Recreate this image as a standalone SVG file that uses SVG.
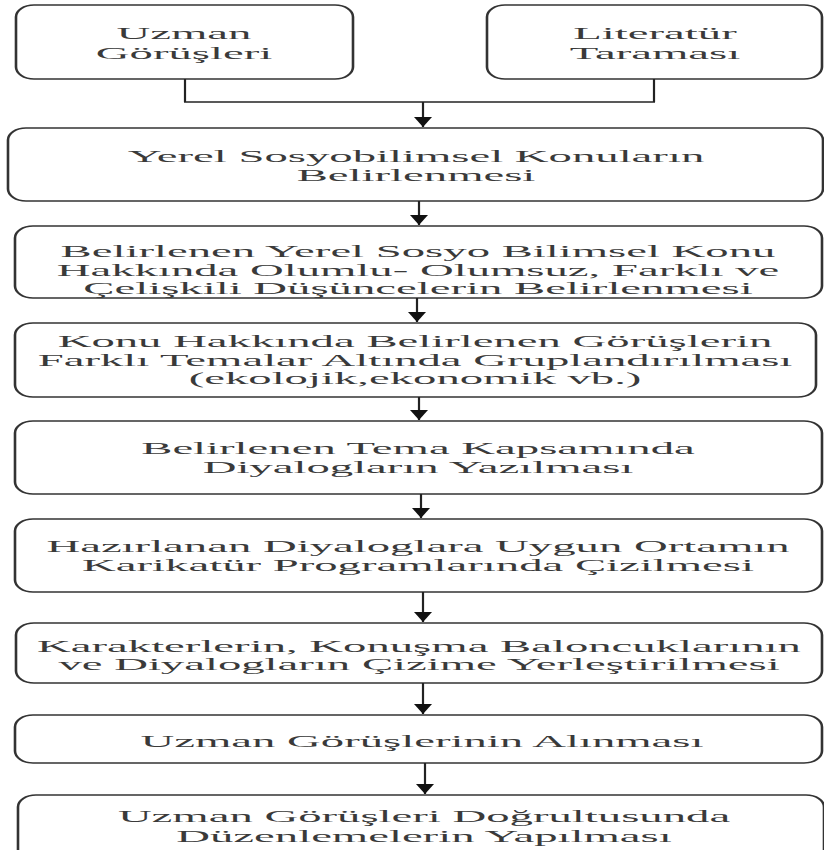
<svg xmlns="http://www.w3.org/2000/svg" width="824" height="850" viewBox="0 0 824 850">
<defs>
<style>
.box{fill:#fff;stroke:#333;stroke-width:1.3}
.t{font-family:"Liberation Serif","Times New Roman",serif;font-size:17.5px;fill:#3a3a3a;text-anchor:middle}
.v{stroke:#222;stroke-width:2.2;fill:none}
.h{stroke:#222;stroke-width:1.4;fill:none}
</style>
<marker id="ah" viewBox="0 -9 10 18" markerWidth="10" markerHeight="18" refX="10" refY="0" orient="auto" markerUnits="userSpaceOnUse">
<path d="M0,-9 L10,0 L0,9 z" fill="#111"/>
</marker>
</defs>
<rect width="824" height="850" fill="#fff"/>

<g id="uzman">
<rect class="box" transform="scale(2,1)" x="8" y="5" width="168.5" height="74" rx="9" ry="12"/>
<text class="t" transform="translate(184,0) scale(2.67,1)"><tspan x="0" y="39">Uzman</tspan><tspan x="0" y="59">Görüşleri</tspan></text>
</g>
<g id="literatur">
<rect class="box" transform="scale(2,1)" x="243.5" y="5" width="167.5" height="74" rx="9" ry="12"/>
<text class="t" transform="translate(655,0) scale(2.67,1)"><tspan x="0" y="39">Literatür</tspan><tspan x="0" y="59">Taraması</tspan></text>
</g>
<g id="yerel">
<rect class="box" transform="scale(2,1)" x="4" y="128" width="407.5" height="73" rx="9" ry="12"/>
<text class="t" transform="translate(416,0) scale(2.67,1)"><tspan x="0" y="162">Yerel Sosyobilimsel Konuların</tspan><tspan x="0" y="181">Belirlenmesi</tspan></text>
</g>
<g id="dusunceler">
<rect class="box" transform="scale(2,1)" x="7.5" y="226" width="403.5" height="72" rx="9" ry="12"/>
<text class="t" transform="translate(418,0) scale(2.67,1)"><tspan x="0" y="257">Belirlenen Yerel Sosyo Bilimsel Konu</tspan><tspan x="0" y="276">Hakkında Olumlu- Olumsuz, Farklı ve</tspan><tspan x="0" y="294">Çelişkili Düşüncelerin Belirlenmesi</tspan></text>
</g>
<g id="gruplandirma">
<rect class="box" transform="scale(2,1)" x="7.5" y="323" width="400.5" height="74" rx="9" ry="12"/>
<text class="t" transform="translate(415,0) scale(2.67,1)"><tspan x="0" y="347">Konu Hakkında Belirlenen Görüşlerin</tspan><tspan x="0" y="366">Farklı Temalar Altında Gruplandırılması</tspan><tspan x="0" y="384">(ekolojik,ekonomik vb.)</tspan></text>
</g>
<g id="diyalog">
<rect class="box" transform="scale(2,1)" x="7.5" y="421" width="403.5" height="73" rx="9" ry="12"/>
<text class="t" transform="translate(418,0) scale(2.67,1)"><tspan x="0" y="454">Belirlenen Tema Kapsamında</tspan><tspan x="0" y="473">Diyalogların Yazılması</tspan></text>
</g>
<g id="ortam">
<rect class="box" transform="scale(2,1)" x="7.5" y="519" width="403.5" height="73" rx="9" ry="12"/>
<text class="t" transform="translate(418,0) scale(2.67,1)"><tspan x="0" y="552">Hazırlanan Diyaloglara Uygun Ortamın</tspan><tspan x="0" y="571">Karikatür Programlarında Çizilmesi</tspan></text>
</g>
<g id="karakter">
<rect class="box" transform="scale(2,1)" x="8" y="623" width="403" height="60" rx="9" ry="12"/>
<text class="t" transform="translate(419,0) scale(2.67,1)"><tspan x="0" y="652">Karakterlerin, Konuşma Baloncuklarının</tspan><tspan x="0" y="670">ve Diyalogların Çizime Yerleştirilmesi</tspan></text>
</g>
<g id="gorus">
<rect class="box" transform="scale(2,1)" x="7.5" y="715" width="403.5" height="48" rx="9" ry="12"/>
<text class="t" transform="translate(422,0) scale(2.67,1)"><tspan x="0" y="747">Uzman Görüşlerinin Alınması</tspan></text>
</g>
<g id="duzenleme">
<rect class="box" transform="scale(2,1)" x="9" y="795" width="403" height="80" rx="9" ry="12"/>
<text class="t" transform="translate(424,0) scale(2.67,1)"><tspan x="0" y="822">Uzman Görüşleri Doğrultusunda</tspan><tspan x="0" y="842">Düzenlemelerin Yapılması</tspan></text>
</g>

<g id="connectors">
<line class="v" x1="185" y1="79" x2="185" y2="102"/>
<line class="v" x1="654" y1="79" x2="654" y2="102"/>
<line class="h" x1="184" y1="102" x2="655" y2="102"/>
<line class="v" x1="423" y1="102" x2="423" y2="127" marker-end="url(#ah)"/>
<line class="v" x1="419" y1="201" x2="419" y2="225" marker-end="url(#ah)"/>
<line class="v" x1="417" y1="298" x2="417" y2="322" marker-end="url(#ah)"/>
<line class="v" x1="419" y1="397" x2="419" y2="420" marker-end="url(#ah)"/>
<line class="v" x1="421" y1="494" x2="421" y2="518" marker-end="url(#ah)"/>
<line class="v" x1="423" y1="592" x2="423" y2="622" marker-end="url(#ah)"/>
<line class="v" x1="423" y1="683" x2="423" y2="714" marker-end="url(#ah)"/>
<line class="v" x1="425" y1="763" x2="425" y2="794" marker-end="url(#ah)"/>
</g>
</svg>
